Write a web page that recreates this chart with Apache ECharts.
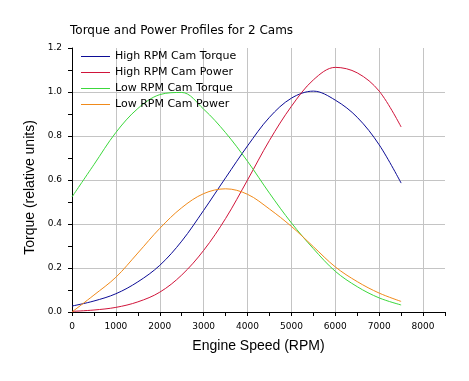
<!DOCTYPE html>
<html>
<head>
<meta charset="utf-8">
<script src="https://cdn.jsdelivr.net/npm/echarts@6/dist/echarts.min.js"></script>
<style>
html,body{margin:0;padding:0;background:#fff;}
#chart{width:469px;height:381px;}
</style>
</head>
<body>
<div id="chart"></div>
<script>
var titleText = 'Torque and Power Profiles for 2 Cams';
var xName = 'Engine Speed (RPM)';
var yName = 'Torque (relative units)';
var seriesNames = ['High RPM Cam Torque', 'High RPM Cam Power', 'Low RPM Cam Torque', 'Low RPM Cam Power'];
var rpm = [0, 500, 1000, 1500, 2000, 2500, 3000, 3500, 4000, 4500, 5000, 5500, 6000, 6500, 7000, 7500];
var highTorque = [0.027, 0.05, 0.083, 0.137, 0.212, 0.322, 0.462, 0.61, 0.755, 0.885, 0.972, 1.004, 0.963, 0.885, 0.76, 0.586];
var highPower  = [0.003, 0.009, 0.021, 0.046, 0.09, 0.168, 0.28, 0.425, 0.6, 0.78, 0.935, 1.055, 1.112, 1.087, 1.004, 0.841];
var lowTorque  = [0.523, 0.67, 0.816, 0.925, 0.988, 0.998, 0.922, 0.815, 0.685, 0.54, 0.405, 0.288, 0.185, 0.115, 0.064, 0.032];
var lowPower   = [0.0, 0.077, 0.158, 0.268, 0.38, 0.474, 0.538, 0.56, 0.535, 0.468, 0.389, 0.297, 0.205, 0.138, 0.086, 0.048];
var colors = ['#0c0c96', '#d0143a', '#3cd83c', '#f08a1a'];

function pairs(ys){ return rpm.map(function(x,i){ return [x, ys[i]]; }); }
var allValues = [highTorque, highPower, lowTorque, lowPower];

var chart = echarts.init(document.getElementById('chart'), null, {renderer:'canvas'});
var font = 'DejaVu Sans';
chart.setOption({
  animation: false,
  backgroundColor: '#ffffff',
  title: {
    text: titleText, left: 64, top: 25, padding: [0,0,0,6],
    textStyle: {fontFamily: font, fontSize: 12, fontWeight: 'normal', color: '#000'}
  },
  legend: {
    orient: 'vertical', left: 81, top: 50, padding: 0,
    icon: 'rect', itemWidth: 29, itemHeight: 1, itemGap: 3,
    textStyle: {fontFamily: font, fontSize: 11, color: '#000', lineHeight: 13},
    data: seriesNames
  },
  grid: {left: 72, right: 24, top: 48, bottom: 69, containLabel: false},
  xAxis: {
    type: 'value', min: 0, max: 8500, interval: 500,
    name: xName, nameLocation: 'middle', nameGap: 27,
    nameTextStyle: {fontFamily: 'Liberation Sans', fontSize: 14, color: '#000'},
    axisLine: {show: true, onZero: false, lineStyle: {color: '#000', width: 1}},
    axisTick: {show: true, length: 4, lineStyle: {color: '#000'}},
    axisLabel: {
      margin: 10, fontFamily: font, fontSize: 9, color: '#000',
      formatter: function(v){ return (v % 1000 === 0 && v <= 8000) ? String(v) : ''; }
    },
    splitLine: {show: true, showMaxLine: false, lineStyle: {color: ['#c4c4c4', 'rgba(0,0,0,0)'], width: 1}}
  },
  yAxis: {
    type: 'value', min: 0, max: 1.2, interval: 0.2,
    name: yName, nameLocation: 'middle', nameGap: 31, nameRotate: 90,
    nameTextStyle: {fontFamily: 'Liberation Sans', fontSize: 14, color: '#000', padding: [0, 15, 0, 0]},
    axisLine: {show: true, onZero: false, lineStyle: {color: '#000', width: 1}},
    axisTick: {show: true, length: 4, lineStyle: {color: '#000'}},
    minorTick: {show: true, splitNumber: 2, length: 4, lineStyle: {color: '#000'}},
    axisLabel: {
      margin: 10, fontFamily: font, fontSize: 9, color: '#000',
      formatter: function(v){ return v.toFixed(1); }
    },
    splitLine: {show: true, showMaxLine: false, lineStyle: {color: '#c4c4c4', width: 1}}
  },
  series: seriesNames.map(function(n, i){
    return {
      name: n, type: 'line', data: pairs(allValues[i]),
      smooth: 0.35, symbol: 'none', showSymbol: false,
      lineStyle: {color: colors[i], width: 1},
      itemStyle: {color: colors[i]}
    };
  })
});
</script>
</body>
</html>
